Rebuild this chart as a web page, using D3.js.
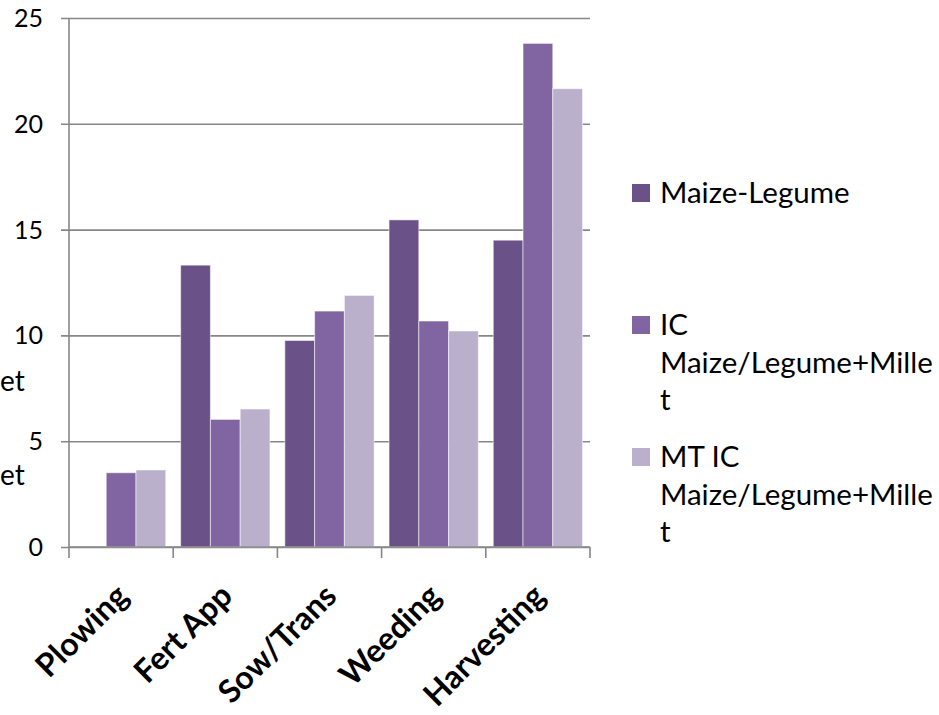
<!DOCTYPE html>
<html>
<head>
<meta charset="utf-8">
<script src="https://cdn.jsdelivr.net/npm/d3@7"></script>
<style>
  html, body { margin: 0; padding: 0; background: #fff; }
  svg { display: block; }
</style>
</head>
<body>
<svg id="chart" width="939" height="715"></svg>
<script>
// Farm operations (x categories)
const categories = ["Plowing", "Fert App", "Sow/Trans", "Weeding", "Harvesting"];

// One value per operation for each cropping system
const maizeLegume   = [0, 13.32, 9.76, 15.46, 14.50];
const icMaizeMillet = [3.51, 6.03, 11.15, 10.68, 23.80];
const mtMaizeMillet = [3.64, 6.52, 11.89, 10.21, 21.66];

const seriesNames = ["Maize-Legume", "IC Maize/Legume+Millet", "MT IC Maize/Legume+Millet"];
// Legend labels as they wrap in the legend box
const legendLines = [["Maize-Legume"], ["IC", "Maize/Legume+Mille", "t"], ["MT IC", "Maize/Legume+Mille", "t"]];
const seriesColors = ["#6A5288", "#8165A2", "#BAB0CB"];

const yTicks = [0, 5, 10, 15, 20, 25];

const seriesValues = [maizeLegume, icMaizeMillet, mtMaizeMillet];
const rows = categories.map((c, i) => ({
  category: c,
  values: seriesValues.map((vals, s) => ({ series: seriesNames[s], idx: s, value: vals[i] }))
}));

const svg = d3.select("#chart");
const margin = { left: 69, right: 349, top: 18, bottom: 168 };
const W = 939, H = 715;
const plotW = W - margin.left - margin.right;
const plotH = H - margin.top - margin.bottom;

const g = svg.append("g").attr("transform", `translate(${margin.left},${margin.top})`);

const x = d3.scaleBand().domain(categories).range([0, plotW]).paddingInner(0).paddingOuter(0);
const inner = d3.scaleBand().domain(d3.range(seriesNames.length))
  .range([0, x.bandwidth()]).paddingInner(0).paddingOuter(0.25);
const y = d3.scaleLinear().domain([0, 25]).range([plotH, 0]);

const gridColor = "#878787";
const textFont = "Lato, 'Open Sans', sans-serif";

// Horizontal gridlines with short outward ticks
const yAxis = d3.axisLeft(y).tickValues(yTicks).tickSize(-plotW).tickPadding(0).tickFormat(d3.format("d"));
const yg = g.append("g").call(yAxis);
yg.select(".domain").remove();
yg.selectAll(".tick line").attr("stroke", gridColor).attr("stroke-width", 1.6).attr("x1", -8);
yg.selectAll(".tick text")
  .attr("x", -26)
  .attr("dy", "0.34em")
  .attr("fill", "#000")
  .style("font-family", textFont)
  .style("font-size", "25px");

// Vertical value axis line
g.append("line")
  .attr("x1", 0).attr("x2", 0).attr("y1", 0).attr("y2", plotH)
  .attr("stroke", gridColor).attr("stroke-width", 1.6);

// Bars
const groups = g.selectAll("g.cat").data(rows).join("g")
  .attr("class", "cat")
  .attr("transform", d => `translate(${x(d.category)},0)`);

groups.selectAll("rect").data(d => d.values.filter(v => v.value > 0)).join("rect")
  .attr("x", d => inner(d.idx))
  .attr("width", inner.bandwidth())
  .attr("y", d => y(d.value))
  .attr("height", d => plotH - y(d.value))
  .attr("fill", d => seriesColors[d.idx])
  .attr("stroke", "#ffffff")
  .attr("stroke-opacity", 0.55)
  .attr("stroke-width", 1);

// Category axis with tick marks at group boundaries
const xAxisG = g.append("g").attr("transform", `translate(0,${plotH})`);
xAxisG.append("line")
  .attr("x1", 0).attr("x2", plotW).attr("y1", 0).attr("y2", 0)
  .attr("stroke", gridColor).attr("stroke-width", 1.6);
const boundaries = categories.map(c => x(c)).concat([plotW]);
xAxisG.selectAll("line.bound").data(boundaries).join("line")
  .attr("class", "bound")
  .attr("x1", d => d).attr("x2", d => d)
  .attr("y1", 0).attr("y2", 11)
  .attr("stroke", gridColor).attr("stroke-width", 1.6);

// Rotated category labels
xAxisG.selectAll("text.cat").data(categories).join("text")
  .attr("class", "cat")
  .attr("transform", d => `translate(${x(d) + x.bandwidth() / 2 + 9},51) rotate(-45)`)
  .attr("text-anchor", "end")
  .attr("fill", "#000")
  .style("font-family", textFont)
  .style("font-weight", "bold")
  .style("font-size", "32px")
  .text(d => d);

// Legend
const legend = svg.append("g").attr("transform", "translate(632,203)");
const entry = legend.selectAll("g.entry").data(seriesNames).join("g")
  .attr("class", "entry")
  .attr("transform", (d, i) => `translate(0,${i * 132})`);
entry.append("rect")
  .attr("x", 0).attr("y", -19).attr("width", 18).attr("height", 18)
  .attr("fill", (d, i) => seriesColors[i]);
entry.append("text")
  .attr("x", 28).attr("y", 0)
  .attr("fill", "#000")
  .style("font-family", textFont)
  .style("font-size", "29.5px")
  .selectAll("tspan").data((d, i) => legendLines[i]).join("tspan")
  .attr("x", 28)
  .attr("dy", (d, j) => j === 0 ? 0 : 37.5)
  .text(d => d);

// Trailing text fragments at the left edge
const edgeText = ["et", "et"];
svg.selectAll("text.edge").data(edgeText).join("text")
  .attr("class", "edge")
  .attr("x", 0)
  .attr("y", (d, i) => 391 + i * 94)
  .attr("fill", "#000")
  .style("font-family", textFont)
  .style("font-size", "28px")
  .text(d => d);
</script>
</body>
</html>
